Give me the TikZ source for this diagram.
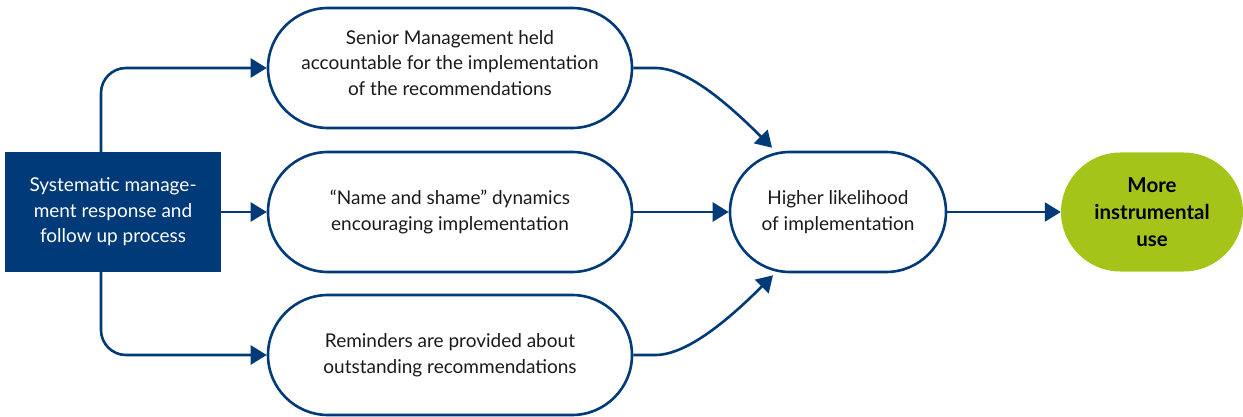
\documentclass[tikz,border=0pt]{standalone}
\usepackage{fontspec}
\setmainfont{Lato}
\usetikzlibrary{arrows.meta,shapes.misc,calc}
\definecolor{navy}{HTML}{003A78}
\definecolor{lime}{HTML}{A5C419}
\definecolor{txt}{HTML}{1A1A1A}
\begin{document}
\begin{tikzpicture}[x=1pt,y=-1pt,
  stad/.style={rounded rectangle, draw=navy, line width=2.6pt, minimum width=364pt,
    minimum height=120pt, align=center, text=txt, inner sep=0pt,
    font=\fontsize{19}{25.5}\selectfont},
  lbl/.style={align=center, text=txt, inner sep=0pt, font=\fontsize{19}{25.5}\selectfont},
  conn/.style={draw=navy, line width=2.6pt, -{Triangle[length=16pt,width=19pt]}},
  ]
\useasboundingbox (0,0) rectangle (1243,417);
\node[rectangle, fill=navy, minimum width=216pt, minimum height=119pt, inner sep=0pt,
  text=white, align=center, font=\fontsize{19}{25.5}\selectfont] (sys) at (113,212)
  {Systematic manage-\\ment response and\\follow up process};
\node[stad] (sm) at (450,68) {};
\node[lbl] (smt) at (450,63) {Senior Management held\\accountable for the implementation\\of the recommendations};
\node[stad] (ns) at (450,212) {“Name and shame” dynamics\\encouraging implementation};
\node[stad] (rm) at (450,355) {Reminders are provided about\\outstanding recommendations};
\node[stad, minimum width=216pt] (hl) at (838,212) {Higher likelihood\\of implementation};
\node[rounded rectangle, fill=lime, minimum width=182pt, minimum height=119pt, inner sep=0pt,
  align=center, text=black, font=\fontsize{20.5}{27}\selectfont\bfseries] (mi) at (1152,212)
  {More\\instrumental\\use};
\draw[conn, rounded corners=25pt] ([xshift=-12pt]sys.north) |- (sm.west);
\draw[conn, rounded corners=25pt] ([xshift=-12pt]sys.south) |- (rm.west);
\draw[conn] (sys.east) -- (ns.west);
\draw[conn] (ns.east) -- (hl.west);
\draw[conn] (hl.east) -- (mi.west);
\draw[conn] (sm.east) -- ++(22,0) .. controls +(30,0) and +(-48,-48) .. ([xshift=-66pt,yshift=3pt]hl.north);
\draw[conn] (rm.east) -- ++(22,0) .. controls +(30,0) and +(-48,48) .. ([xshift=-65pt,yshift=-2pt]hl.south);
\end{tikzpicture}
\end{document}
